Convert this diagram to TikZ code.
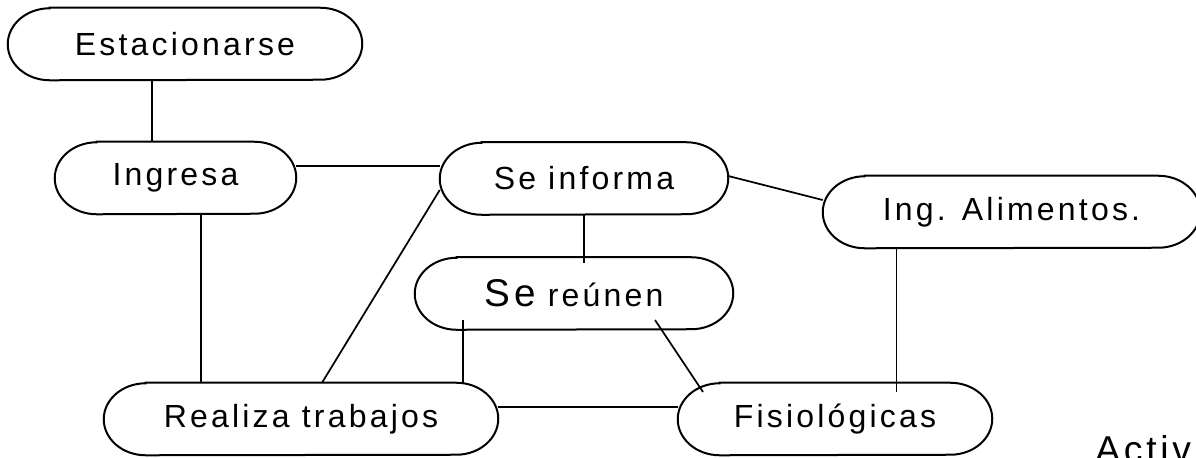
\documentclass[tikz,border=0pt]{standalone}
\usepackage{fontspec}
\setmainfont{Liberation Sans}[LetterSpace=10]
\usepackage{tikz}
\usetikzlibrary{positioning}
\tikzset{
  blob/.style={rectangle, inner sep=0pt, minimum height=54pt,
               font=\fontsize{24}{28}\selectfont},
  rim/.style={line width=1.5pt},
  link/.style={draw, line width=1.3pt}
}

\begin{document}
\begin{tikzpicture}[x=0.75pt, y=-0.75pt]
      \clip (0,0) rectangle (1196,457);
      \fill[white] (0,0) rectangle (1196,457);

      \node[blob, minimum width=265.5pt] (est) at (185,44) {Estacionarse};
      \node[blob, minimum width=180.75pt] (ing) at (175.5,178) {Ingresa};
      \node[blob, minimum width=216pt] (inf) at (584,178.5) {Se informa};
      \node[blob, minimum width=282.75pt] (ali) at (1011.5,212) {Ing. Alimentos.};
      \node[blob, minimum width=238.5pt] (reu) at (574,293.5)
           {{\fontsize{29}{32}\selectfont Se} re\'unen};
      \node[blob, minimum width=295.5pt] (rea) at (301,419) {Realiza trabajos};
      \node[blob, minimum width=235.5pt] (fis) at (835,419) {Fisiol\'ogicas};
      \node[anchor=base west, inner sep=0pt, font=\fontsize{28}{32}\selectfont] (act) at (1095,462) {Activ};

      \foreach \n in {est,ing,inf,ali,reu,rea,fis}
        \draw[rim] ([xshift=31.5pt]\n.north west) -- ([xshift=-31.5pt]\n.north east)
              arc[start angle=90, end angle=-90, x radius=31.5pt, y radius=27pt]
              -- ([xshift=31.5pt]\n.south west)
              arc[start angle=270, end angle=90, x radius=31.5pt, y radius=27pt] -- cycle;

      \coordinate (infR) at (584,263);
      \coordinate (reuL) at (463,320);
      \coordinate (reuR) at (655,320);
      \coordinate (fisT) at (703,392);
      \coordinate (fisA) at (896,392);

      \begin{scope}[every edge/.style={link}]
        \path (est.south -| 152,0) edge (ing.north -| 152,0);
        \path (ing.east |- 0,166) edge (inf.west |- 0,166);
        \path (ing.south -| 201,0) edge (rea.north -| 201,0);
        \path (inf.west |- 0,190) edge (rea.north -| 322,0);
        \path (inf.south) edge (infR);
        \path (inf.east |- 0,176) edge (ali.west |- 0,200);
        \path (reuL) edge (rea.north -| 463,0);
        \path (reuR) edge (fisT);
        \path (rea.east |- 0,407) edge (fis.west |- 0,407);
        \path (ali.south -| 896,0) edge[line width=0.6pt] (fisA);
      \end{scope}
\end{tikzpicture}
\end{document}
